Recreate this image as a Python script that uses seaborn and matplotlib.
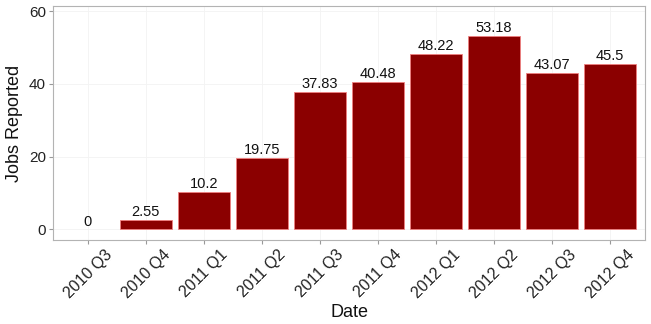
import numpy as np
import pandas as pd
import matplotlib
matplotlib.use("Agg")
import matplotlib.pyplot as plt
import seaborn as sns

# --- Data ---
quarters = ["2010 Q3", "2010 Q4", "2011 Q1", "2011 Q2", "2011 Q3",
            "2011 Q4", "2012 Q1", "2012 Q2", "2012 Q3", "2012 Q4"]
jobs = [0, 2.55, 10.2, 19.75, 37.83, 40.48, 48.22, 53.18, 43.07, 45.5]
bar_labels = ["0", "2.55", "10.2", "19.75", "37.83", "40.48",
              "48.22", "53.18", "43.07", "45.5"]
y_ticks = [0, 20, 40, 60]

df = pd.DataFrame({"Date": quarters, "Jobs": jobs})

# --- Style ---
sns.set_style("white")
plt.rcParams['font.family'] = ['Liberation Sans', 'DejaVu Sans']

fig = plt.figure(figsize=(6.51, 3.24), dpi=100)
ax = fig.add_axes([53 / 651, 84 / 324, 592 / 651, 234 / 324])

sns.barplot(data=df, x="Date", y="Jobs", color="#8B0000", saturation=1,
            width=0.9, edgecolor="#F08080", linewidth=0.6, ax=ax, zorder=3)

# zero-height bars should not show an outline
for patch, v in zip(ax.patches, jobs):
    if v == 0:
        patch.set_linewidth(0)

for i, (v, lab) in enumerate(zip(jobs, bar_labels)):
    ax.text(i, v + 0.25, lab, ha="center", va="bottom", fontsize=10.5,
            color="#111111", zorder=4)

ax.set_xlim(-0.6, 9.6)
ax.set_ylim(-2.9, 61.4)
ax.set_yticks(y_ticks)

# faint grid
ax.grid(True, color="#F3F3F3", linewidth=0.6, zorder=0)
ax.set_axisbelow(True)

for s in ax.spines.values():
    s.set_color("#B3B3B3")
    s.set_linewidth(0.8)

ax.tick_params(axis="both", which="both", length=3, color="#999999",
               labelcolor="#222222", pad=2, bottom=True, left=True)
ax.tick_params(axis="y", labelsize=11)
ax.tick_params(axis="x", labelsize=11.5, pad=2)
plt.setp(ax.get_xticklabels(), rotation=45, ha="center", va="top")

ax.set_xlabel("Date", fontsize=13, color="#111111", va="top")
ax.xaxis.set_label_coords(0.5, -0.275)
ax.set_ylabel("Jobs Reported", fontsize=13, color="#111111", labelpad=4)

plt.savefig("out.png", dpi=100)
print("saved out.png")
